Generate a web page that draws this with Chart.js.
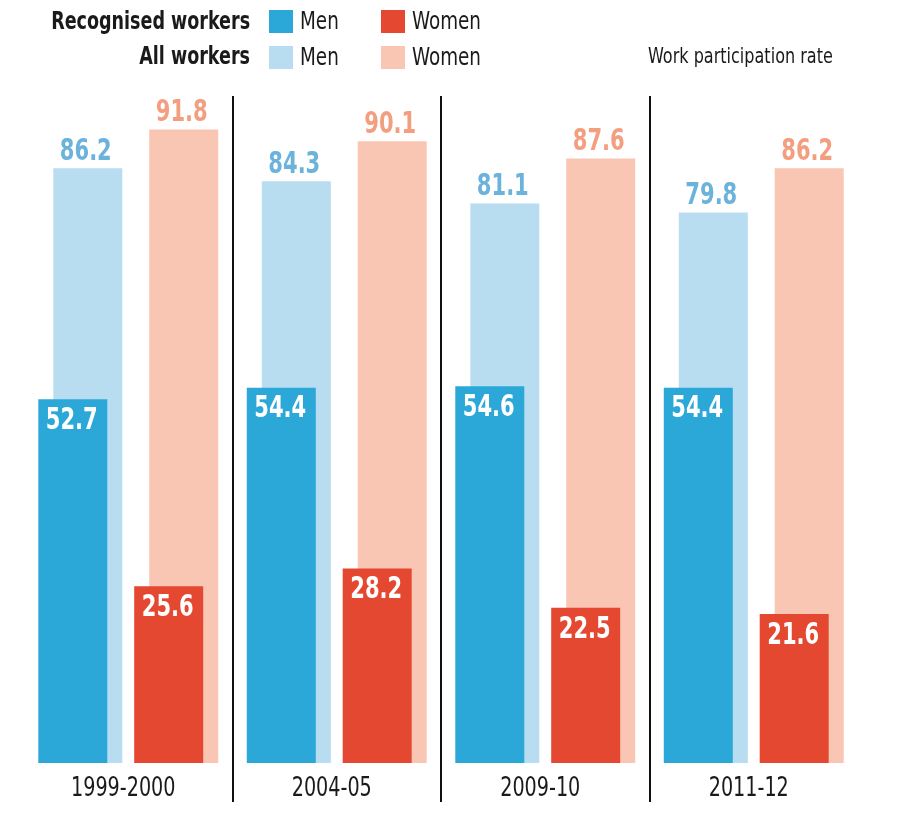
<!DOCTYPE html>
<html>
<head>
<meta charset="utf-8">
<script src="https://cdn.jsdelivr.net/npm/chart.js@4"></script>
<style>
    body { margin: 0; background: #fff; }
    #wrap { position: relative; width: 900px; height: 813px; font-family: 'Liberation Sans Narrow', 'DejaVu Sans Condensed', sans-serif; color: #1a1a1a; }
    #chart { position: absolute; left: 0; top: 0; }
    .lg { position: absolute; white-space: nowrap; transform-origin: left top; transform: scaleX(0.85); }
    .lg-title { font-weight: bold; font-size: 25px; transform-origin: right top; transform: scaleX(0.78); }
    .lg-text { font-size: 24px; }
    .sq { position: absolute; width: 24px; height: 23px; }
    .note { left: 648px; top: 44px; font-size: 21px; }
</style>
</head>
<body>
<div id="wrap">
    <canvas id="chart" width="900" height="813"></canvas>

    <div class="lg lg-title" style="right: 650px; top: 6px;">Recognised workers</div>
    <div class="sq" style="left: 269px; top: 10px; background: #2ca8d8;"></div>
    <div class="lg lg-text" style="left: 300px; top: 7px;">Men</div>
    <div class="sq" style="left: 381px; top: 10px; background: #e54830;"></div>
    <div class="lg lg-text" style="left: 412px; top: 7px;">Women</div>

    <div class="lg lg-title" style="right: 650px; top: 41px;">All workers</div>
    <div class="sq" style="left: 269px; top: 46px; background: #b8ddf0;"></div>
    <div class="lg lg-text" style="left: 300px; top: 43px;">Men</div>
    <div class="sq" style="left: 381px; top: 46px; background: #fac6b4;"></div>
    <div class="lg lg-text" style="left: 412px; top: 43px;">Women</div>

    <div class="lg note">Work participation rate</div>
</div>

<script>
// data
const categories = ['1999-2000', '2004-05', '2009-10', '2011-12'];
const recognisedMen = [52.7, 54.4, 54.6, 54.4];
const recognisedWomen = [25.6, 28.2, 22.5, 21.6];
const allMen = [86.2, 84.3, 81.1, 79.8];
const allWomen = [91.8, 90.1, 87.6, 86.2];

const FONT = "'Liberation Sans Narrow', 'DejaVu Sans Condensed', sans-serif";

// bar offsets inside a group (in group units)
function points(values, offset) {
    return values.map((v, i) => ({ x: i + offset, y: v }));
}

// condensed text: squeeze horizontally around the anchor
function squeezeText(ctx, text, x, y, sx) {
    ctx.save();
    ctx.translate(x, y);
    ctx.scale(sx, 1);
    ctx.fillText(text, 0, 0);
    ctx.restore();
}

// dividers, category labels and value labels
const decorations = {
    id: 'decorations',
    afterDatasetsDraw(chart) {
        const ctx = chart.ctx;
        const xs = chart.scales.x;
        ctx.save();

        // vertical dividers between periods
        ctx.strokeStyle = '#111';
        ctx.lineWidth = 2;
        for (let i = 0; i < categories.length - 1; i++) {
            const px = Math.round(xs.getPixelForValue(i + 0.5));
            ctx.beginPath();
            ctx.moveTo(px, 96);
            ctx.lineTo(px, 802);
            ctx.stroke();
        }

        // period labels
        ctx.fillStyle = '#1a1a1a';
        ctx.font = '26px ' + FONT;
        ctx.textAlign = 'center';
        ctx.textBaseline = 'alphabetic';
        categories.forEach((c, i) => {
            squeezeText(ctx, c, xs.getPixelForValue(i) - 5, 796, 0.82);
        });

        // value labels
        ctx.font = 'bold 30px ' + FONT;
        chart.data.datasets.forEach((ds, di) => {
            const meta = chart.getDatasetMeta(di);
            meta.data.forEach((bar, i) => {
                const v = ds.data[i].y.toFixed(1);
                ctx.fillStyle = ds.labelColor;
                if (ds.labelInside) {
                    ctx.textBaseline = 'top';
                    squeezeText(ctx, v, bar.x - 1, bar.y + 7, 0.78);
                } else {
                    ctx.textBaseline = 'bottom';
                    squeezeText(ctx, v, bar.x - 2, bar.y - 1, 0.78);
                }
            });
        });

        ctx.restore();
    }
};

new Chart(document.getElementById('chart'), {
    type: 'bar',
    data: {
        datasets: [
            {
                label: 'Recognised workers - Men',
                data: points(recognisedMen, -0.266),
                backgroundColor: '#2ca8d8',
                labelColor: '#ffffff',
                labelInside: true
            },
            {
                label: 'Recognised workers - Women',
                data: points(recognisedWomen, 0.194),
                backgroundColor: '#e54830',
                labelColor: '#ffffff',
                labelInside: true
            },
            {
                label: 'All workers - Men',
                data: points(allMen, -0.194),
                backgroundColor: '#b8ddf0',
                labelColor: '#6cb3dc',
                labelInside: false
            },
            {
                label: 'All workers - Women',
                data: points(allWomen, 0.266),
                backgroundColor: '#fac6b4',
                labelColor: '#f49e80',
                labelInside: false
            }
        ]
    },
    options: {
        responsive: false,
        animation: false,
        grouped: false,
        barThickness: 69,
        borderWidth: 0,
        inflateAmount: 0,
        layout: {
            padding: { left: 24, right: 42, top: 73, bottom: 50 }
        },
        plugins: {
            legend: { display: false },
            tooltip: { enabled: false }
        },
        scales: {
            x: {
                type: 'linear',
                offset: false,
                min: -0.5,
                max: 3.5,
                display: false
            },
            y: {
                min: 0,
                max: 100,
                display: false
            }
        }
    },
    plugins: [decorations]
});
</script>
</body>
</html>
